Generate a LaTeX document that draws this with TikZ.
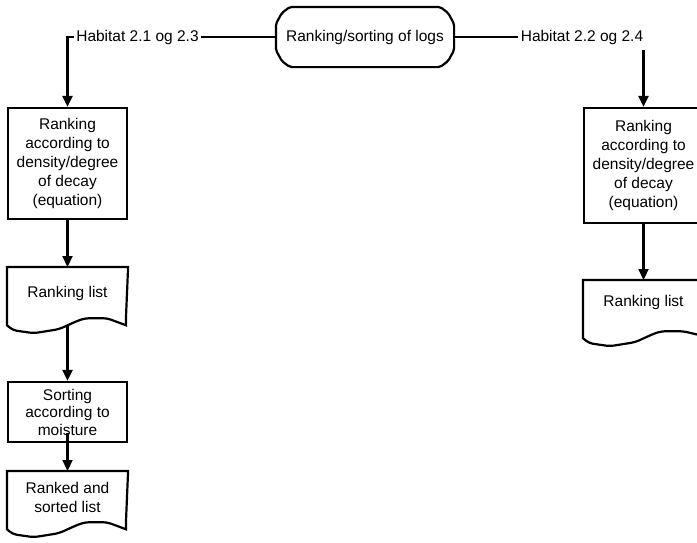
\documentclass[tikz,border=0pt]{standalone}
\usepackage{fontspec}
\setmainfont{Liberation Sans}
\usetikzlibrary{arrows.meta,calc}
\newcommand\docoutline[2]{%
  \draw (#1.north west) -- (#1.south west) -- ($(#1.south west)+(0,6)$)
    [rounded corners=4pt] -- ++(6,5) -- ++(21,3) -- ++(25,-4) -- ++(20,-9) -- ++(7,-2) -- ++(21,0)
    [sharp corners] -- ($(#1.south west)+(#2,6)$) -- ($(#1.south west)+(#2,0)$) -- (#1.north east) -- (#1.north west) -- cycle;}
\begin{document}
\begin{tikzpicture}[x=1pt,y=-1pt,line width=2.2pt,
  every node/.style={font=\fontsize{15.5}{19}\selectfont, align=center, inner sep=0pt},
  procbox/.style={draw, rectangle, minimum width=119pt},
  docbox/.style={rectangle, minimum width=119pt, minimum height=50pt},
  lab/.style={fill=white, inner xsep=2.5pt, inner ysep=5.5pt},
  arr/.style={-{Triangle[width=10pt,length=11pt]}}]
\path[use as bounding box, clip] (0,0) rectangle (697,542);

% terminator
\node[minimum width=176pt, minimum height=58pt] (o) at (365,37) {Ranking/sorting of logs};
\draw[rounded corners=2pt] ($(o.north west)+(14,0)$) -- ($(o.north east)+(-14,0)$)
  -- ($(o.north east)+(-6,6)$) -- ($(o.north east)+(0,17)$) -- ($(o.south east)+(0,-17)$)
  -- ($(o.south east)+(-6,-6)$) -- ($(o.south east)+(-14,0)$) -- ($(o.south west)+(14,0)$)
  -- ($(o.south west)+(6,-6)$) -- ($(o.south west)+(0,-17)$) -- ($(o.north west)+(0,17)$)
  -- ($(o.north west)+(6,6)$) -- cycle;

% left column
\node[procbox, minimum height=111pt] (b1) at (67.5,163.5) {Ranking\\according to\\density/degree\\of decay\\(equation)};
\node[docbox, anchor=north] (d1) at (67.5,267) {Ranking list};
\docoutline{d1}{119}
\node[procbox, minimum height=60pt, font=\fontsize{15.5}{17.5}\selectfont] (b3) at (67.5,412) {Sorting\\according to\\moisture};
\node[docbox, anchor=north] (d2) at (67.5,471) {Ranked and\\sorted list};
\docoutline{d2}{119}

% right column (runs past the right edge of the picture)
\node[procbox, minimum width=160pt, minimum height=115pt, anchor=west] (r1box) at (583,165.5) {};
\node (r1) at (643.5,165.5) {Ranking\\according to\\density/degree\\of decay\\(equation)};
\node[docbox, anchor=north west, minimum width=160pt] (r2box) at (583,280) {};
\node (r2) at (643.5,302) {Ranking list};
\docoutline{r2box}{130}

% connectors
\draw[arr] (o.west) -| (b1.north);
\draw[arr] (o.east) -| (r1 |- r1box.north);
\draw[arr] (b1.south) -- (d1.north);
\draw[arr] ([yshift=-7pt]d1.south) -- (b3.north);
\draw[arr] ([yshift=10pt]b3.south) -- (d2.north);
\draw[arr] (r1 |- r1box.south) -- (r1 |- r2box.north);

% connector labels
\node[lab] (hl) at (137.5,37) {Habitat 2.1 og 2.3};
\node[lab] (hr) at (582,37) {Habitat 2.2 og 2.4};
\end{tikzpicture}
\end{document}
